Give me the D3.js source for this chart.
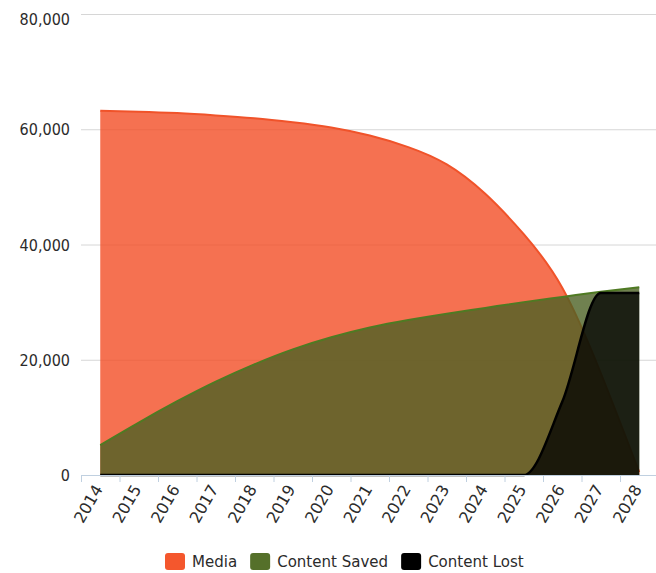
<!DOCTYPE html>
<html>
<head>
<meta charset="utf-8">
<script src="https://cdn.jsdelivr.net/npm/d3@7"></script>
<style>
  body { margin: 0; background: #fff; }
  svg text { font-family: "DejaVu Sans", sans-serif; fill: #2b2b2b; }
</style>
</head>
<body>
<script>
// chart data
const years = ["2014", "2015", "2016", "2017", "2018", "2019", "2020", "2021",
  "2022", "2023", "2024", "2025", "2026", "2027", "2028"];
const media = [63200, 63050, 62800, 62400, 61900, 61200, 60300, 58900,
  56900, 53900, 48800, 41800, 32500, 17700, 500];
const contentSaved = [5200, 9100, 12800, 16200, 19200, 21800, 23900, 25600,
  26900, 28000, 29000, 30000, 30900, 31800, 32600];
const contentLost = [0, 0, 0, 0, 0, 0, 0, 0, 0, 0, 0, 0, 12700, 31600, 31600];
const yTicks = [0, 20000, 40000, 60000, 80000];
const seriesNames = ["Media", "Content Saved", "Content Lost"];

const W = 656, H = 573;
const plot = { left: 81, right: 658.5, top: 14, bottom: 475 };

const svg = d3.select("body").append("svg")
  .attr("width", W)
  .attr("height", H);

const x = d3.scaleBand().domain(years).range([plot.left, plot.right]).padding(0);
const y = d3.scaleLinear().domain([0, 80000]).range([plot.bottom, plot.top]);
const cx = (d) => x(d) + x.bandwidth() / 2;

// grid lines
const grid = svg.append("g")
  .attr("transform", `translate(${plot.left},0)`)
  .call(d3.axisLeft(y).tickValues(yTicks.slice(1)).tickSize(-(W - plot.left)).tickFormat(""));
grid.select(".domain").remove();
grid.selectAll(".tick line").attr("stroke", "#d6d6d6");

// series
const series = [
  { name: seriesNames[0], values: media, fill: "#f24e26", line: "#f0532a", key: "#f4572d", op: 0.8, lw: 2, curve: d3.curveNatural },
  { name: seriesNames[1], values: contentSaved, fill: "#4c6124", line: "#4f7a23", key: "#55702a", op: 0.8, lw: 2, curve: d3.curveNatural },
  { name: seriesNames[2], values: contentLost, fill: "#000000", line: "#000000", key: "#000000", op: 0.75, lw: 2.5, curve: d3.curveMonotoneX }
];

series.forEach((s) => {
  const pts = years.map((yr, i) => ({ year: yr, v: s.values[i] }));
  const area = d3.area()
    .x((d) => cx(d.year))
    .y0(y(0))
    .y1((d) => y(d.v))
    .curve(s.curve);
  const line = d3.line()
    .x((d) => cx(d.year))
    .y((d) => y(d.v))
    .curve(s.curve);
  const g = svg.append("g");
  g.append("path")
    .datum(pts)
    .attr("d", area)
    .attr("fill", s.fill)
    .attr("fill-opacity", s.op);
  g.append("path")
    .datum(pts)
    .attr("d", line)
    .attr("fill", "none")
    .attr("stroke", s.line)
    .attr("stroke-width", s.lw)
    .attr("stroke-linejoin", "round");
});

// y axis labels
const yAxis = svg.append("g")
  .attr("transform", `translate(${plot.left},0)`)
  .call(d3.axisLeft(y).tickValues(yTicks).tickSize(0).tickFormat(d3.format(",")));
yAxis.select(".domain").remove();
yAxis.selectAll(".tick text")
  .attr("font-size", 16)
  .attr("x", -11 / 0.9)
  .attr("dy", (d) => (d === 80000 ? "0.65em" : "0.35em"))
  .attr("transform", "scale(0.9,1)");

// x axis
const xAxis = svg.append("g")
  .attr("transform", `translate(0,${plot.bottom})`)
  .call(d3.axisBottom(x).tickSize(0).tickFormat((d) => d));
xAxis.select(".domain")
  .attr("stroke", "#c0d0e0")
  .attr("d", `M${plot.left},0.5H${W}`);
xAxis.selectAll(".tick text")
  .attr("font-size", 16)
  .attr("text-anchor", "end")
  .attr("x", 0)
  .attr("y", 0)
  .attr("dy", 0)
  .attr("transform", "translate(3,14) rotate(-60)");
// tick marks between categories
xAxis.selectAll(".sep")
  .data(years)
  .enter()
  .append("line")
  .attr("x1", (d) => x(d) + 0.5)
  .attr("x2", (d) => x(d) + 0.5)
  .attr("y1", 0)
  .attr("y2", 7)
  .attr("stroke", "#c0d0e0");

// legend
const legend = svg.append("g").attr("transform", "translate(165,553)");
let lx = 0;
series.forEach((s) => {
  const item = legend.append("g").attr("transform", `translate(${lx},0)`);
  item.append("rect")
    .attr("width", 20)
    .attr("height", 17)
    .attr("rx", 3)
    .attr("fill", s.key);
  const t = item.append("text")
    .attr("x", 27 / 0.94)
    .attr("y", 14)
    .attr("font-size", 16)
    .attr("transform", "scale(0.94,1)")
    .text(s.name);
  lx += 27 + t.node().getComputedTextLength() * 0.94 + 13;
});
</script>
</body>
</html>
